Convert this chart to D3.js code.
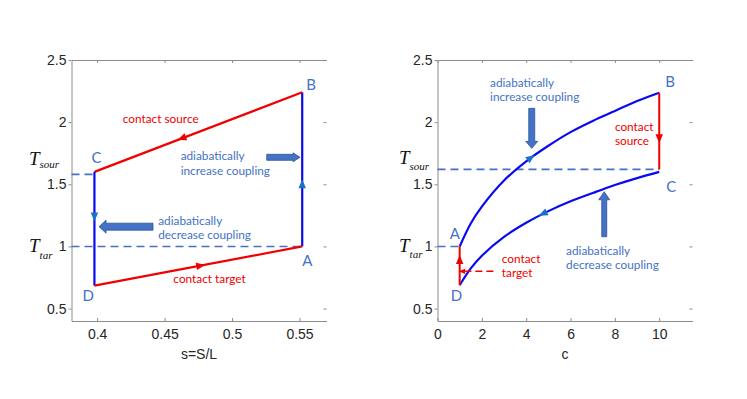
<!DOCTYPE html>
<html>
<head>
<meta charset="utf-8">
<script src="https://cdn.jsdelivr.net/npm/d3@7"></script>
<style>
body { margin: 0; background: #fff; }
svg { display: block; }
.tick text { font-family: "Liberation Sans", Arial, sans-serif; font-size: 14px; fill: #262626; }
.note { font-family: Lato, "Open Sans", sans-serif; font-size: 11.8px; }
.corner { font-family: Lato, "Open Sans", sans-serif; font-size: 15px; fill: #4472c4; }
.tlab { font-family: "Liberation Serif", "Times New Roman", serif; font-style: italic; fill: #111; }
</style>
</head>
<body>
<svg id="chart" width="747" height="399"></svg>
<script>
// left panel: cycle corners A, B, C, D as (s, T)
var cornerNames = ["A", "B", "C", "D"];
var cornerS = [0.552, 0.552, 0.398, 0.398];
var cornerT = [1.0, 2.24, 1.6, 0.685];
var sourLeft = 1.58;
var tarT = 1.0;

// right panel: the two adiabats, T against coupling c
var couplingC = [1, 1.5, 2, 3, 4, 5, 6, 7, 8, 9, 10];
var upperT = [1.0, 1.185, 1.32, 1.53, 1.685, 1.81, 1.92, 2.01, 2.09, 2.17, 2.237];
var lowerT = [0.688, 0.823, 0.925, 1.077, 1.19, 1.284, 1.363, 1.43, 1.494, 1.55, 1.60];
var sourRight = 1.62;

var sTicks = [0.4, 0.45, 0.5, 0.55];
var cTicks = [0, 2, 4, 6, 8, 10];
var tTicks = [0.5, 1, 1.5, 2, 2.5];

var blue = "#0a0af0", red = "#f00000", dashBlue = "#4472c4", markBlue = "#1a72c8";

var svg = d3.select("#chart");

var y = d3.scaleLinear().domain([0.4, 2.5]).range([321, 60]);
var xL = d3.scaleLinear().domain([0.381, 0.57]).range([71.5, 326.5]);
var xR = d3.scaleLinear().domain([0, 11.5]).range([437.5, 692.5]);

function frame(x, ticks, title) {
    var g = svg.append("g");
    var x0 = x.range()[0], x1 = x.range()[1], y0 = y.range()[0], y1 = y.range()[1];

    g.append("g").attr("transform", "translate(0," + y0 + ")")
        .call(d3.axisBottom(x).tickValues(ticks).tickSize(-3).tickSizeOuter(0).tickPadding(8).tickFormat(d3.format("")));
    g.append("g").attr("transform", "translate(0," + y1 + ")")
        .call(d3.axisBottom(x).tickValues(ticks).tickSize(3).tickSizeOuter(0).tickFormat(""));
    g.append("g").attr("transform", "translate(" + x0 + ",0)")
        .call(d3.axisLeft(y).tickValues(tTicks).tickSize(3).tickSizeOuter(0).tickPadding(2).tickFormat(d3.format("")));
    g.append("g").attr("class", "rightax").attr("transform", "translate(" + x1 + ",0)")
        .call(d3.axisLeft(y).tickValues(tTicks).tickSize(3).tickSizeOuter(0).tickFormat(""));

    g.selectAll(".domain").attr("stroke", "#8c8c8c");
    g.selectAll(".tick line").attr("stroke", "#8c8c8c");
    g.select(".rightax .domain").remove();

    g.append("text")
        .attr("x", (x0 + x1) / 2).attr("y", 359)
        .attr("text-anchor", "middle")
        .style("font-family", "'Liberation Sans', Arial, sans-serif")
        .style("font-size", "14px").style("fill", "#262626")
        .text(title);
    return g;
}

function arrowHead(g, px, py, angle, color, size) {
    var s = size || 5;
    g.append("path")
        .attr("d", "M" + s + ",0L" + (-s * 0.8) + "," + (-s * 0.75) + "L" + (-s * 0.8) + "," + (s * 0.75) + "Z")
        .attr("transform", "translate(" + px + "," + py + ") rotate(" + angle * 180 / Math.PI + ")")
        .attr("fill", color);
}

function blockArrow(g, x1, y1, x2, y2, shaft, head, headLen) {
    var len = Math.hypot(x2 - x1, y2 - y1);
    var ang = Math.atan2(y2 - y1, x2 - x1) * 180 / Math.PI;
    var b = len - headLen;
    g.append("path")
        .attr("d", "M0," + (-shaft / 2) + "L" + b + "," + (-shaft / 2) + "L" + b + "," + (-head / 2) +
            "L" + len + ",0L" + b + "," + (head / 2) + "L" + b + "," + (shaft / 2) + "L0," + (shaft / 2) + "Z")
        .attr("transform", "translate(" + x1 + "," + y1 + ") rotate(" + ang + ")")
        .attr("fill", "#4472c4").attr("stroke", "#2f5597").attr("stroke-width", 0.8);
}

function note(g, px, py, lines, color) {
    var t = g.append("text").attr("class", "note").attr("x", px).attr("y", py).style("fill", color);
    lines.forEach(function(l, i) {
        t.append("tspan").attr("x", px).attr("dy", i ? 14.5 : 0).text(l);
    });
}

function tLabel(g, px, py, sub, subDy) {
    var t = g.append("text").attr("class", "tlab").attr("x", px).attr("y", py);
    t.append("tspan").style("font-size", "19px").text("T");
    t.append("tspan").attr("dy", subDy).style("font-size", "11px").text(sub);
}

function pointAtX(node, px) {
    var len = node.getTotalLength(), lo = 0, hi = len;
    for (var i = 0; i < 30; i++) {
        var mid = (lo + hi) / 2;
        if (node.getPointAtLength(mid).x < px) lo = mid; else hi = mid;
    }
    var p = node.getPointAtLength(lo), q = node.getPointAtLength(Math.min(len, lo + 2));
    return { x: p.x, y: p.y, angle: Math.atan2(q.y - p.y, q.x - p.x) };
}

// ---------- left panel ----------
var gl = frame(xL, sTicks, "s=S/L");
var P = cornerS.map(function(s, i) { return [xL(s), y(cornerT[i])]; });
var line = d3.line();

gl.append("path").attr("d", line([[xL.range()[0], y(sourLeft)], [P[2][0], y(sourLeft)]]))
    .attr("stroke", dashBlue).attr("stroke-width", 1.6).attr("stroke-dasharray", "8,5").attr("fill", "none");
gl.append("path").attr("d", line([[xL.range()[0], y(tarT)], [P[0][0], y(tarT)]]))
    .attr("stroke", dashBlue).attr("stroke-width", 1.6).attr("stroke-dasharray", "8,5").attr("fill", "none");

var legs = [[0, 1, blue], [1, 2, red], [2, 3, blue], [3, 0, red]];
legs.forEach(function(l) {
    gl.append("path").attr("d", line([P[l[0]], P[l[1]]]))
        .attr("stroke", l[2]).attr("stroke-width", 2.2).attr("fill", "none");
});

function legAngle(a, b) { return Math.atan2(P[b][1] - P[a][1], P[b][0] - P[a][0]); }
arrowHead(gl, P[0][0], y(1.5), legAngle(0, 1), markBlue);
arrowHead(gl, P[2][0], y(1.24), legAngle(2, 3), markBlue);
var sBC = 0.463, sDA = 0.4765;
arrowHead(gl, xL(sBC), y(cornerT[1] + (cornerT[2] - cornerT[1]) * (sBC - cornerS[1]) / (cornerS[2] - cornerS[1])), legAngle(1, 2), red);
arrowHead(gl, xL(sDA), y(cornerT[3] + (cornerT[0] - cornerT[3]) * (sDA - cornerS[3]) / (cornerS[0] - cornerS[3])), legAngle(3, 0), red);

var leftOff = [[0, 14], [4, -8], [-3, -14], [-12, 10]];
cornerNames.forEach(function(n, i) {
    gl.append("text").attr("class", "corner").attr("x", P[i][0] + leftOff[i][0]).attr("y", P[i][1] + leftOff[i][1])
        .attr("dy", "0.35em").text(n);
});

note(gl, xL(0.419), y(1.993), ["contact  source"], red);
note(gl, xL(0.4619), y(1.695), ["adiabatically", "increase coupling"], dashBlue);
note(gl, xL(0.4453), y(1.176), ["adiabatically", "decrease coupling"], dashBlue);
note(gl, xL(0.4565), y(0.706), ["contact  target"], red);

blockArrow(gl, xL(0.5257), y(1.717), xL(0.5504), y(1.717), 6, 9, 7);
blockArrow(gl, xL(0.4414), y(1.159), xL(0.4014), y(1.159), 7, 13, 7);

tLabel(gl, 29, y(sourLeft) - 9, "sour", 3);
tLabel(gl, 29, y(tarT) + 6, "tar", 7);

// ---------- right panel ----------
var gr = frame(xR, cTicks, "c");
var curve = d3.line().x(function(d) { return xR(d[0]); }).y(function(d) { return y(d[1]); }).curve(d3.curveCatmullRom);
var up = couplingC.map(function(c, i) { return [c, upperT[i]]; });
var lo = couplingC.map(function(c, i) { return [c, lowerT[i]]; });
var cA = couplingC[0], cB = couplingC[couplingC.length - 1];

gr.append("path").attr("d", line([[xR.range()[0], y(sourRight)], [xR(cB), y(sourRight)]]))
    .attr("stroke", dashBlue).attr("stroke-width", 1.6).attr("stroke-dasharray", "8,5").attr("fill", "none");
gr.append("path").attr("d", line([[xR.range()[0], y(tarT)], [xR(cA), y(tarT)]]))
    .attr("stroke", dashBlue).attr("stroke-width", 1.6).attr("stroke-dasharray", "8,5").attr("fill", "none");

var upPath = gr.append("path").attr("d", curve(up)).attr("stroke", blue).attr("stroke-width", 2.2).attr("fill", "none");
var loPath = gr.append("path").attr("d", curve(lo)).attr("stroke", blue).attr("stroke-width", 2.2).attr("fill", "none");

gr.append("path").attr("d", line([[xR(cB), y(upperT[upperT.length - 1])], [xR(cB), y(sourRight)]]))
    .attr("stroke", red).attr("stroke-width", 2).attr("fill", "none");
gr.append("path").attr("d", line([[xR(cA), y(lowerT[0])], [xR(cA), y(upperT[0])]]))
    .attr("stroke", red).attr("stroke-width", 2).attr("fill", "none");

var pu = pointAtX(upPath.node(), xR(4.2));
arrowHead(gr, pu.x, pu.y, pu.angle, markBlue);
var pl = pointAtX(loPath.node(), xR(4.77));
arrowHead(gr, pl.x, pl.y, pl.angle + Math.PI, markBlue);
arrowHead(gr, xR(cB), y(1.87), Math.PI / 2, red);
arrowHead(gr, xR(cA), y(0.89), -Math.PI / 2, red);

gr.append("path").attr("d", line([[xR(2.52), y(0.8)], [xR(1.25), y(0.8)]]))
    .attr("stroke", red).attr("stroke-width", 1.6).attr("stroke-dasharray", "7,4").attr("fill", "none");
arrowHead(gr, xR(1.12), y(0.8), Math.PI, red, 3.5);

var rightPts = [[cA, upperT[0]], [cB, upperT[upperT.length - 1]], [cB, lowerT[lowerT.length - 1]], [cA, lowerT[0]]];
var rightOff = [[-10, -13], [6, -11], [7, 15], [-9, 11]];
cornerNames.forEach(function(n, i) {
    gr.append("text").attr("class", "corner")
        .attr("x", xR(rightPts[i][0]) + rightOff[i][0]).attr("y", y(rightPts[i][1]) + rightOff[i][1])
        .attr("dy", "0.35em").text(n);
});

note(gr, xR(2.37), y(2.283), ["adiabatically", "increase coupling"], dashBlue);
note(gr, xR(8.0), y(1.929), ["contact", "source"], red);
note(gr, xR(2.9), y(0.867), ["contact", "target"], red);
note(gr, xR(5.8), y(0.935), ["adiabatically", "decrease coupling"], dashBlue);

blockArrow(gr, xR(4.25), y(2.111), xR(4.25), y(1.789), 6, 12, 7);
blockArrow(gr, xR(7.52), y(1.078), xR(7.52), y(1.44), 5, 11, 8);

tLabel(gr, 399, y(sourRight) - 5, "sour", 6);
tLabel(gr, 399, y(tarT) + 6, "tar", 6);
</script>
</body>
</html>
